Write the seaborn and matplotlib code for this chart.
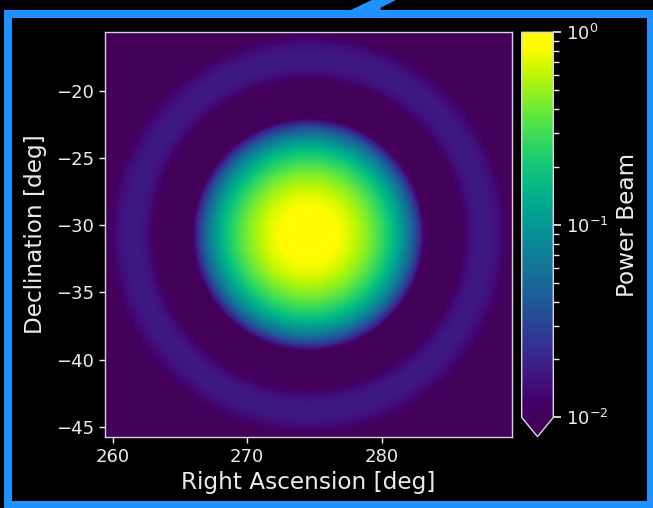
import numpy as np
import matplotlib
matplotlib.use("Agg")
import matplotlib.pyplot as plt
import seaborn as sns
from matplotlib.colors import LogNorm, ListedColormap
from matplotlib.patches import Rectangle, Polygon

# ---------------- data / parameters ----------------
ra_range = [259.43, 289.70]        # deg, image extent in RA
dec_range = [-45.74, -15.65]       # deg, image extent in Dec
beam_center = [274.57, -30.70]     # RA, Dec of beam pointing (deg)
beam_scale = 0.393                 # Airy argument per degree
n_pix = 500
xticks = [260, 270, 280]
yticks = [-45, -40, -35, -30, -25, -20]
cbar_limits = [1e-2, 1.0]
xlabel = "Right Ascension [deg]"
ylabel = "Declination [deg]"
cbar_label = "Power Beam"

# ---------------- beam model ----------------
ra = np.linspace(ra_range[0], ra_range[1], n_pix)
dec = np.linspace(dec_range[0], dec_range[1], n_pix)
RA, DEC = np.meshgrid(ra, dec)
arg = beam_scale * np.hypot(RA - beam_center[0], DEC - beam_center[1])


def bessel_j1(x):
    term = x / 2.0
    out = term.copy()
    for m in range(60):
        term = term * (-(x / 2.0) ** 2) / ((m + 1) * (m + 2))
        out = out + term
    return out


safe = np.where(arg > 1e-9, arg, 1.0)
power = np.where(arg > 1e-9, (2.0 * bessel_j1(safe) / safe) ** 2, 1.0)

# ---------------- style ----------------
fg = "#ececec"
sns.set_theme(style="ticks", rc={
    "figure.facecolor": "black",
    "axes.facecolor": "black",
    "savefig.facecolor": "black",
    "text.color": fg,
    "axes.labelcolor": fg,
    "xtick.color": fg,
    "ytick.color": fg,
    "axes.edgecolor": "#dcd0e4",
})
plt.rcParams["font.family"] = ["DejaVu Sans"]

# vivid viridis (the reference screenshot is more saturated)
base = np.array(sns.color_palette("viridis", 256))
mean = base.mean(axis=1, keepdims=True)
vivid = np.clip(mean + 1.35 * (base - mean), 0, 1)
vivid = vivid ** 1.08
cmap = ListedColormap(vivid, name="vivid_viridis")

W, H = 653, 508
fig = plt.figure(figsize=(W / 100, H / 100), dpi=100)

ax = fig.add_axes([105 / W, (H - 436.7) / H, 407 / W, 404.4 / H])
im = ax.imshow(power, origin="lower", extent=[ra_range[0], ra_range[1], dec_range[0], dec_range[1]],
               cmap=cmap, norm=LogNorm(vmin=cbar_limits[0], vmax=cbar_limits[1]),
               aspect="auto", interpolation="bilinear")
ax.set_xticks(xticks)
ax.set_yticks(yticks)
ax.set_xlim(ra_range)
ax.set_ylim(dec_range)
ax.tick_params(labelsize=13, length=4.5, width=1, colors=fg)
ax.set_xlabel(xlabel, fontsize=16.7, labelpad=4)
ax.set_ylabel(ylabel, fontsize=16.7, labelpad=6)
for s in ax.spines.values():
    s.set_linewidth(1.0)
    s.set_color("#dcd0e4")

cax = fig.add_axes([521.7 / W, (H - 436.7) / H, 31.6 / W, 404.4 / H])
cb = fig.colorbar(im, cax=cax, extend="min")
cb.set_label(cbar_label, fontsize=16.7, color=fg, labelpad=5)
cb.ax.tick_params(labelsize=13, colors=fg)
cb.ax.tick_params(which="minor", colors=fg)
cb.outline.set_edgecolor("#dcd0e4")
cb.outline.set_linewidth(1.0)

# ---------------- screenshot frame ----------------
blue = "#1e90ff"
fig.patches.append(Rectangle((8 / W, 3 / H), (651 - 8) / W, (H - 13.5 - 3) / H,
                             transform=fig.transFigure, fill=False,
                             edgecolor=blue, linewidth=5.8, zorder=10))
pts = [(340, 15), (372, 0), (396, 0), (380, 8), (386, 17)]
fig.patches.append(Polygon([(px / W, (H - py) / H) for px, py in pts], closed=True,
                           transform=fig.transFigure, facecolor=blue, edgecolor="none", zorder=10))

fig.savefig("out.png", dpi=100, facecolor="black")
